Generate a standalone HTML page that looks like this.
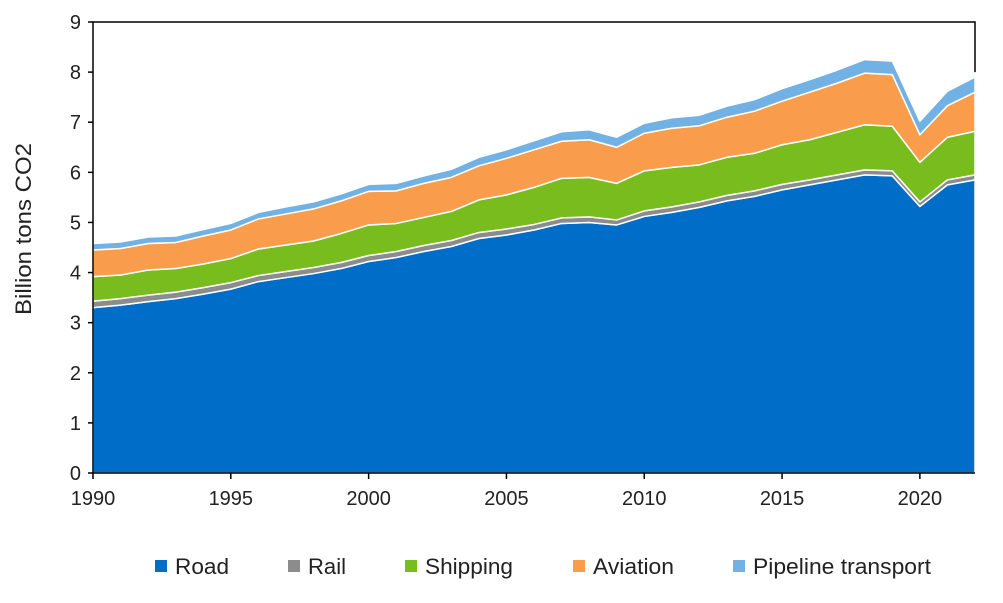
<!DOCTYPE html>
<html><head><meta charset="utf-8"><style>
body{margin:0;background:#fff;font-family:"Liberation Sans",Arial,sans-serif;}
svg text{font-family:"Liberation Sans",Arial,sans-serif;}
</style></head><body>
<svg id="chart" width="1003" height="598" xmlns="http://www.w3.org/2000/svg">
<g id="areas"></g>
<g id="axes"></g>
<g id="legend"></g>
</svg>
<script>
const years=[];for(let y=1990;y<=2022;y++)years.push(y);
const road=[3.3,3.35,3.42,3.48,3.57,3.67,3.82,3.9,3.98,4.08,4.22,4.3,4.42,4.52,4.68,4.75,4.85,4.98,5.0,4.95,5.12,5.2,5.3,5.43,5.52,5.65,5.75,5.85,5.95,5.93,5.32,5.75,5.85];
const rail=[0.13,0.13,0.13,0.13,0.13,0.13,0.12,0.12,0.12,0.12,0.12,0.12,0.12,0.12,0.12,0.12,0.11,0.11,0.11,0.1,0.11,0.11,0.11,0.11,0.11,0.11,0.1,0.1,0.1,0.1,0.09,0.1,0.1];
const shipping=[0.49,0.47,0.5,0.47,0.47,0.48,0.53,0.53,0.53,0.58,0.61,0.56,0.56,0.58,0.65,0.68,0.74,0.79,0.79,0.73,0.8,0.79,0.74,0.76,0.75,0.79,0.8,0.85,0.9,0.89,0.79,0.85,0.87];
const aviation=[0.53,0.53,0.53,0.52,0.56,0.57,0.6,0.62,0.64,0.65,0.67,0.65,0.68,0.68,0.68,0.73,0.75,0.74,0.75,0.72,0.75,0.78,0.78,0.8,0.84,0.87,0.95,0.98,1.03,1.03,0.55,0.63,0.78];
const pipeline=[0.13,0.13,0.13,0.13,0.13,0.13,0.13,0.14,0.14,0.14,0.14,0.15,0.15,0.16,0.17,0.17,0.18,0.19,0.2,0.2,0.2,0.21,0.21,0.22,0.23,0.25,0.25,0.26,0.27,0.27,0.27,0.29,0.3];
const seriesNames=["Road","Rail","Shipping","Aviation","Pipeline transport"];
const colors=["#006dc9","#8c8c8c","#78bc1e","#f99d4c","#72b1e4"];
const yTicks=[0,1,2,3,4,5,6,7,8,9];
const xTicks=[1990,1995,2000,2005,2010,2015,2020];
const X0=93,X1=975,Y0=473,Y9=22;
const xs=y=>X0+(y-1990)*(X1-X0)/32;
const ys=v=>Y0-v*(Y0-Y9)/9;
const NS="http://www.w3.org/2000/svg";
function mk(t,a,p){const e=document.createElementNS(NS,t);for(const k in a)e.setAttribute(k,a[k]);p.appendChild(e);return e;}
const areas=document.getElementById('areas'),axes=document.getElementById('axes'),legend=document.getElementById('legend');
const all=[road,rail,shipping,aviation,pipeline];
let base=years.map(()=>0);
all.forEach((s,i)=>{
 const top=base.map((b,j)=>b+s[j]);
 let d="M"+years.map((y,j)=>xs(y)+","+ys(top[j])).join(" L");
 for(let j=years.length-1;j>=0;j--)d+=" L"+xs(years[j])+","+ys(base[j]);
 d+="Z";
 const p=mk('path',{d:d,fill:colors[i],stroke:'#fff','stroke-width':1.5,'stroke-linejoin':'round'},areas);
 
 
 base=top;
});
const f=mk('path',{d:`M${X0},${Y0} L${X0},${Y9} L${X1},${Y9} L${X1},${ys(8)}`,fill:'none',stroke:'#000','stroke-width':1.5},axes);


const xl=mk('line',{x1:X0,y1:Y0,x2:X1,y2:Y0,stroke:'#000','stroke-width':1.5},axes);


yTicks.forEach(v=>{
 const t=mk('line',{x1:X0-5,x2:X0,y1:ys(v),y2:ys(v),stroke:'#000','stroke-width':1.5},axes);
 
 
 const tx=mk('text',{x:X0-12,y:ys(v)+7,'text-anchor':'end','font-size':20,fill:'#222'},axes);
 tx.textContent=v;
 
 
});
xTicks.forEach(v=>{
 const t=mk('line',{x1:xs(v),x2:xs(v),y1:Y0,y2:Y0+6,stroke:'#000','stroke-width':1.5},axes);
 
 
 const tx=mk('text',{x:xs(v),y:Y0+32,'text-anchor':'middle','font-size':20,fill:'#222'},axes);
 tx.textContent=v;
 
 
});
const yt=mk('text',{x:0,y:0,transform:'translate(31,229) rotate(-90)','text-anchor':'middle','font-size':22,textLength:172,lengthAdjust:'spacingAndGlyphs',fill:'#222'},axes);
yt.textContent="Billion tons CO2";


const lx=[155,288,405,573,733];
const lw=[54,38,88,81,178];
seriesNames.forEach((n,i)=>{
 const g=mk('g',{},legend);
 
 
 mk('rect',{x:lx[i],y:560,width:12,height:12,fill:colors[i]},g);
 const t=mk('text',{x:lx[i]+20,y:574,'font-size':22,textLength:lw[i],lengthAdjust:'spacingAndGlyphs',fill:'#222'},g);
 t.textContent=n;
});
</script>
</body></html>
